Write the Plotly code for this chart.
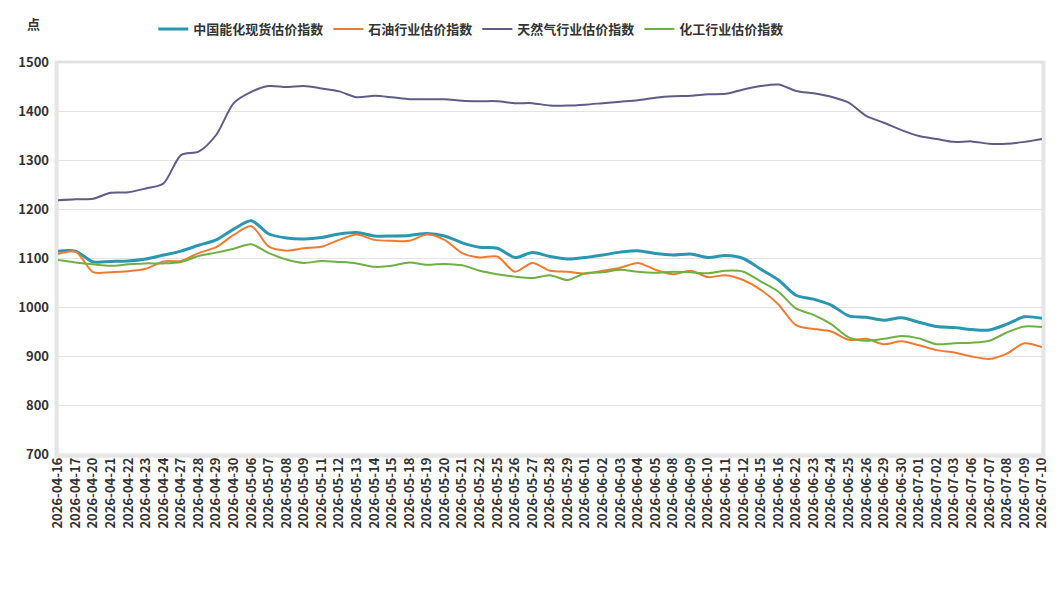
import plotly.graph_objects as go

dates = ["2026-04-16","2026-04-17","2026-04-20","2026-04-21","2026-04-22","2026-04-23","2026-04-24",
         "2026-04-27","2026-04-28","2026-04-29","2026-04-30","2026-05-06","2026-05-07","2026-05-08",
         "2026-05-09","2026-05-11","2026-05-12","2026-05-13","2026-05-14","2026-05-15","2026-05-18",
         "2026-05-19","2026-05-20","2026-05-21","2026-05-22","2026-05-25","2026-05-26","2026-05-27",
         "2026-05-28","2026-05-29","2026-06-01","2026-06-02","2026-06-03","2026-06-04","2026-06-05",
         "2026-06-08","2026-06-09","2026-06-10","2026-06-11","2026-06-12","2026-06-15","2026-06-16",
         "2026-06-22","2026-06-23","2026-06-24","2026-06-25","2026-06-26","2026-06-29","2026-06-30",
         "2026-07-01","2026-07-02","2026-07-03","2026-07-06","2026-07-07","2026-07-08","2026-07-09",
         "2026-07-10"]

spot_index = [1114,1114,1092,1093,1094,1098,1106,1114,1126,1137,1159,1176,1149,1141,
              1139,1142,1149,1152,1145,1145,1146,1150,1145,1131,1122,1120,1101,1111,
              1103,1098,1101,1106,1112,1115,1109,1106,1108,1101,1105,1099,1077,1055,
              1024,1016,1004,982,979,973,978,969,960,958,954,953,965,980,977]

oil_index = [1108,1113,1071,1071,1073,1078,1093,1094,1110,1122,1147,1165,1123,1115,
             1120,1123,1137,1148,1137,1135,1135,1148,1137,1110,1101,1103,1072,1090,
             1074,1072,1068,1074,1080,1090,1076,1067,1074,1061,1065,1055,1035,1005,
             963,955,950,933,935,924,930,922,912,907,899,894,905,926,918]

gas_index = [1218,1220,1221,1233,1234,1242,1252,1310,1317,1351,1416,1439,1451,1449,
             1451,1446,1440,1428,1431,1428,1424,1424,1424,1421,1420,1420,1416,1416,
             1411,1411,1413,1416,1419,1422,1427,1430,1431,1434,1435,1444,1451,1454,
             1441,1436,1429,1417,1390,1376,1361,1349,1343,1337,1338,1333,1333,1337,1343]

chem_index = [1096,1091,1087,1084,1087,1089,1089,1092,1104,1111,1119,1128,1110,1097,
              1090,1094,1092,1089,1082,1084,1091,1086,1088,1085,1074,1067,1062,1059,
              1065,1055,1069,1071,1076,1072,1070,1072,1071,1069,1074,1072,1052,1031,
              997,984,965,938,931,935,941,936,924,926,927,931,948,960,959]

series_names = ["中国能化现货估价指数", "石油行业估价指数", "天然气行业估价指数", "化工行业估价指数"]
series_vals = [spot_index, oil_index, gas_index, chem_index]
colors = ["#2a96b0", "#f07b30", "#5f5c88", "#6fb044"]
widths = [3, 2, 2, 2]

y_ticks = [700, 800, 900, 1000, 1100, 1200, 1300, 1400, 1500]

FONT = "Noto Sans CJK SC, Microsoft YaHei, sans-serif"

fig = go.Figure()
for name, vals, c, w in zip(series_names, series_vals, colors, widths):
    fig.add_trace(go.Scatter(
        x=dates, y=vals, name=name, mode="lines",
        line=dict(color=c, width=w, shape="spline", smoothing=0.8),
        hoverinfo="x+y+name"))

# plot-area frame with soft shadow
fig.add_shape(type="rect", xref="paper", yref="paper", x0=-0.002, x1=1.002, y0=-0.006, y1=1.0,
              line=dict(color="rgba(0,0,0,0.10)", width=3), layer="below")
fig.add_shape(type="rect", xref="paper", yref="paper", x0=0, x1=1, y0=0, y1=1,
              line=dict(color="#dcdcdc", width=1), layer="below")

fig.add_annotation(text="点", xref="paper", yref="paper", x=-0.025, y=1.097,
                   xanchor="center", yanchor="middle",
                   showarrow=False, font=dict(family=FONT, size=13, color="#333", weight="bold"))

fig.update_layout(
    width=1061, height=601,
    margin=dict(l=58, r=11, t=62, b=147),
    plot_bgcolor="white", paper_bgcolor="white",
    font=dict(family=FONT, color="#333"),
    showlegend=True,
    legend=dict(orientation="h", x=0.42, xanchor="center", y=1.084, yanchor="middle",
                font=dict(family=FONT, size=13, color="#333", weight="bold"),
                itemwidth=30, tracegroupgap=0, bgcolor="rgba(0,0,0,0)"),
    xaxis=dict(type="category", range=[0, len(dates) - 1], tickangle=-90,
               tickfont=dict(family=FONT, size=13, color="#333", weight="bold"),
               showgrid=False, zeroline=False, showline=False, ticks=""),
    yaxis=dict(range=[700, 1500], tickvals=y_ticks, showgrid=True, gridcolor="#e3e3e3",
               gridwidth=1, zeroline=False, showline=False, ticks="",
               tickfont=dict(family=FONT, size=13, color="#333", weight="bold"),
               ticklabelstandoff=8),
)

fig.write_html("out.html")
